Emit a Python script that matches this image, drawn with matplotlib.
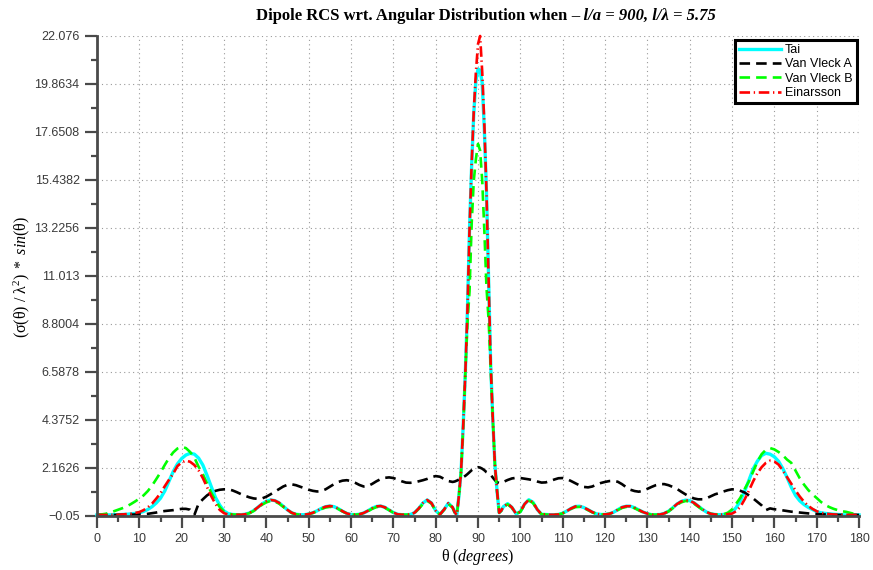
import numpy as np
import matplotlib.pyplot as plt
from matplotlib.ticker import MultipleLocator, FixedLocator

# angle grid: 1 deg steps, 0.5 deg through the main lobe
theta = np.concatenate([np.arange(0, 84), np.arange(84, 96, 0.5), np.arange(96, 181)])

tai = [
    0.00, 0.00, 0.00, 0.00, 0.01, 0.01, 0.02, 0.03, 0.05, 0.07,
    0.10, 0.16, 0.25, 0.38, 0.55, 0.77, 1.10, 1.55, 2.00, 2.35,
    2.60, 2.76, 2.84, 2.80, 2.62, 2.30, 1.82, 1.30, 0.80, 0.45,
    0.18, 0.06, 0.02, 0.01, 0.01, 0.03, 0.09, 0.20, 0.35, 0.51,
    0.63, 0.69, 0.66, 0.56, 0.40, 0.23, 0.10, 0.03, 0.01, 0.01,
    0.04, 0.10, 0.19, 0.30, 0.38, 0.41, 0.38, 0.29, 0.17, 0.07,
    0.02, 0.01, 0.03, 0.09, 0.19, 0.31, 0.39, 0.41, 0.35, 0.23,
    0.11, 0.03, 0.01, 0.01, 0.02, 0.10, 0.30, 0.55, 0.69, 0.55,
    0.20, 0.02, 0.25, 0.54,
    0.35, 0.12, 0.00, 0.90, 2.00, 4.10, 6.50, 9.40, 13.20, 16.10, 18.50, 20.00,
    20.55, 20.50, 19.90, 17.75, 14.90, 10.80, 6.90, 4.40, 2.30, 1.10, 0.10, 0.20,
    0.38, 0.52, 0.35, 0.05,
    0.15, 0.50, 0.70, 0.58, 0.25, 0.03, 0.02, 0.01, 0.01, 0.02,
    0.08, 0.18, 0.30, 0.39, 0.40, 0.34, 0.24, 0.13, 0.05, 0.02,
    0.02, 0.05, 0.12, 0.24, 0.35, 0.40, 0.40, 0.33, 0.23, 0.13,
    0.06, 0.01, 0.01, 0.02, 0.07, 0.17, 0.33, 0.50, 0.62, 0.68,
    0.66, 0.56, 0.41, 0.26, 0.13, 0.05, 0.02, 0.01, 0.02, 0.04,
    0.13, 0.34, 0.66, 1.10, 1.60, 2.12, 2.48, 2.74, 2.84, 2.80,
    2.68, 2.47, 2.14, 1.73, 1.28, 0.90, 0.65, 0.48, 0.35, 0.25,
    0.15, 0.10, 0.07, 0.05, 0.03, 0.02, 0.01, 0.00, 0.00, 0.00,
    0.00,
]

van_vleck_a = [
    0.00, 0.00, 0.00, 0.00, 0.00, 0.00, 0.01, 0.01, 0.01, 0.02,
    0.02, 0.03, 0.05, 0.08, 0.11, 0.15, 0.18, 0.20, 0.22, 0.25,
    0.28, 0.28, 0.24, 0.00, 0.52, 0.72, 0.90, 1.03, 1.11, 1.16,
    1.18, 1.18, 1.13, 1.05, 0.96, 0.88, 0.81, 0.76, 0.74, 0.76,
    0.84, 0.95, 1.07, 1.19, 1.31, 1.39, 1.41, 1.37, 1.30, 1.23,
    1.16, 1.11, 1.08, 1.10, 1.18, 1.30, 1.42, 1.52, 1.58, 1.60,
    1.56, 1.48, 1.38, 1.31, 1.33, 1.43, 1.55, 1.65, 1.71, 1.73,
    1.70, 1.63, 1.55, 1.49, 1.48, 1.50, 1.55, 1.60, 1.66, 1.74,
    1.79, 1.76, 1.66, 1.56,
    1.52, 1.54, 1.58, 1.63, 1.68, 1.74, 1.80, 1.88, 1.97, 2.06, 2.13, 2.18,
    2.20, 2.18, 2.13, 2.06, 1.97, 1.92, 1.85, 1.72, 1.60, 1.51, 1.47, 1.48,
    1.52, 1.61, 1.68, 1.71,
    1.70, 1.67, 1.64, 1.60, 1.54, 1.49, 1.50, 1.56, 1.63, 1.69,
    1.70, 1.65, 1.56, 1.46, 1.36, 1.29, 1.27, 1.31, 1.40, 1.47,
    1.52, 1.56, 1.57, 1.53, 1.42, 1.28, 1.16, 1.10, 1.07, 1.12,
    1.20, 1.29, 1.37, 1.42, 1.42, 1.37, 1.29, 1.20, 1.07, 0.95,
    0.84, 0.76, 0.72, 0.72, 0.77, 0.86, 0.95, 1.01, 1.08, 1.14,
    1.18, 1.17, 1.11, 1.03, 0.90, 0.76, 0.60, 0.44, 0.22, 0.30,
    0.26, 0.24, 0.21, 0.18, 0.15, 0.13, 0.11, 0.09, 0.07, 0.05,
    0.04, 0.03, 0.02, 0.01, 0.00, 0.00, 0.00, 0.00, 0.00, 0.00,
    0.00,
]

van_vleck_b = [
    0.00, 0.02, 0.05, 0.10, 0.17, 0.24, 0.31, 0.39, 0.50, 0.62,
    0.75, 0.90, 1.10, 1.35, 1.65, 1.96, 2.30, 2.62, 2.88, 3.06,
    3.14, 3.08, 2.90, 2.64, 2.22, 1.88, 1.45, 1.02, 0.66, 0.36,
    0.15, 0.05, 0.02, 0.01, 0.01, 0.03, 0.08, 0.18, 0.32, 0.47,
    0.58, 0.64, 0.62, 0.52, 0.37, 0.21, 0.09, 0.03, 0.01, 0.01,
    0.04, 0.09, 0.17, 0.27, 0.34, 0.37, 0.35, 0.27, 0.16, 0.07,
    0.02, 0.01, 0.03, 0.08, 0.17, 0.28, 0.36, 0.38, 0.33, 0.22,
    0.10, 0.03, 0.01, 0.01, 0.02, 0.09, 0.28, 0.51, 0.65, 0.52,
    0.19, 0.02, 0.24, 0.51,
    0.33, 0.11, 0.00, 0.90, 2.00, 4.00, 6.50, 8.80, 10.30, 13.40, 15.40, 16.40,
    17.10, 16.80, 15.40, 13.10, 10.50, 9.00, 6.80, 4.40, 2.30, 1.10, 0.10, 0.19,
    0.36, 0.49, 0.33, 0.05,
    0.14, 0.47, 0.66, 0.55, 0.24, 0.03, 0.02, 0.01, 0.01, 0.02,
    0.07, 0.17, 0.28, 0.36, 0.37, 0.32, 0.22, 0.12, 0.05, 0.02,
    0.02, 0.05, 0.11, 0.22, 0.32, 0.37, 0.37, 0.31, 0.21, 0.12,
    0.05, 0.01, 0.01, 0.02, 0.07, 0.16, 0.31, 0.47, 0.58, 0.64,
    0.62, 0.52, 0.38, 0.24, 0.12, 0.05, 0.02, 0.01, 0.03, 0.10,
    0.25, 0.52, 0.80, 1.20, 1.55, 2.00, 2.45, 2.80, 3.00, 3.08,
    3.02, 2.90, 2.75, 2.55, 2.40, 2.05, 1.69, 1.40, 1.15, 0.95,
    0.78, 0.60, 0.46, 0.36, 0.28, 0.22, 0.17, 0.14, 0.09, 0.04,
    0.02,
]

einarsson = [
    0.00, 0.00, 0.00, 0.00, 0.01, 0.01, 0.02, 0.04, 0.06, 0.09,
    0.13, 0.22, 0.35, 0.52, 0.75, 1.00, 1.32, 1.62, 1.90, 2.25,
    2.42, 2.50, 2.45, 2.30, 2.05, 1.70, 1.28, 0.86, 0.50, 0.23,
    0.08, 0.02, 0.01, 0.01, 0.01, 0.03, 0.09, 0.20, 0.35, 0.51,
    0.63, 0.69, 0.66, 0.56, 0.40, 0.23, 0.10, 0.03, 0.01, 0.01,
    0.04, 0.10, 0.19, 0.30, 0.38, 0.41, 0.38, 0.29, 0.17, 0.07,
    0.02, 0.01, 0.03, 0.09, 0.19, 0.31, 0.39, 0.41, 0.35, 0.23,
    0.11, 0.03, 0.01, 0.01, 0.02, 0.10, 0.30, 0.55, 0.69, 0.55,
    0.20, 0.02, 0.25, 0.54,
    0.35, 0.12, 0.00, 0.90, 2.00, 4.10, 6.50, 9.40, 13.20, 16.20, 18.60, 20.40,
    21.70, 22.076, 20.40, 18.00, 14.90, 10.80, 6.90, 4.40, 2.30, 1.10, 0.10, 0.20,
    0.38, 0.52, 0.35, 0.05,
    0.15, 0.50, 0.70, 0.58, 0.25, 0.03, 0.02, 0.01, 0.01, 0.02,
    0.08, 0.18, 0.30, 0.39, 0.40, 0.34, 0.24, 0.13, 0.05, 0.02,
    0.02, 0.05, 0.12, 0.24, 0.35, 0.40, 0.40, 0.33, 0.23, 0.13,
    0.06, 0.01, 0.01, 0.02, 0.07, 0.17, 0.33, 0.50, 0.62, 0.68,
    0.66, 0.56, 0.41, 0.26, 0.13, 0.05, 0.02, 0.01, 0.02, 0.04,
    0.06, 0.17, 0.38, 0.72, 1.12, 1.55, 1.92, 2.20, 2.40, 2.50,
    2.46, 2.32, 2.04, 1.74, 1.44, 1.13, 0.85, 0.61, 0.42, 0.28,
    0.17, 0.10, 0.06, 0.04, 0.02, 0.01, 0.01, 0.00, 0.00, 0.00,
    0.00,
]

y_ticks = np.linspace(-0.05, 22.076, 11)
y_tick_labels = ['\u22120.05', '2.1626', '4.3752', '6.5878', '8.8004', '11.013',
                 '13.2256', '15.4382', '17.6508', '19.8634', '22.076']

for s in (tai, van_vleck_a, van_vleck_b, einarsson):
    assert len(s) == len(theta)

plt.rcParams['mathtext.fontset'] = 'custom'
plt.rcParams['mathtext.rm'] = 'Liberation Serif'
plt.rcParams['mathtext.it'] = 'Liberation Serif:italic'
plt.rcParams['mathtext.bf'] = 'Liberation Serif:bold'

W, H = 873, 570
fig = plt.figure(figsize=(W / 100, H / 100), dpi=100)
ax = fig.add_axes([97 / W, 1 - 516 / H, (859 - 97) / W, (516 - 36) / H])

ax.plot(theta, tai, color='#00ffff', lw=2.4, label='Tai', clip_on=False)
ax.plot(theta, van_vleck_a, color='black', lw=1.9, dashes=(4.0, 2.3),
        label='Van Vleck A', clip_on=False)
ax.plot(theta, van_vleck_b, color='#00ff00', lw=1.9, dashes=(4.0, 2.3),
        label='Van Vleck B', clip_on=False)
ax.plot(theta, einarsson, color='red', lw=1.9, dashes=(4.0, 1.4, 0.5, 1.4),
        label='Einarsson', clip_on=False)

ax.set_xlim(0, 180)
ax.set_ylim(-0.05, 22.076)
ax.xaxis.set_major_locator(MultipleLocator(10))
ax.xaxis.set_minor_locator(MultipleLocator(5))
ax.yaxis.set_major_locator(FixedLocator(y_ticks))
ax.yaxis.set_minor_locator(FixedLocator((y_ticks[:-1] + y_ticks[1:]) / 2))
ax.set_yticklabels(y_tick_labels)

ax.grid(True, which='major', linestyle=(0, (1, 3)), color='#9a9a9a', lw=0.8)
ax.set_axisbelow(True)

for side in ('top', 'right'):
    ax.spines[side].set_visible(False)
for side in ('left', 'bottom'):
    ax.spines[side].set_color('#4a4a4a')
    ax.spines[side].set_linewidth(2.0)

ax.tick_params(which='major', direction='out', length=8.5, width=1.6,
               color='#4a4a4a', labelsize=9, labelcolor='#3a3a3a', pad=4)
ax.tick_params(which='minor', direction='out', length=4.5, width=1.6,
               color='#4a4a4a')
for lab in ax.get_xticklabels() + ax.get_yticklabels():
    lab.set_fontfamily('Liberation Sans')

leg = ax.legend(loc='upper right', bbox_to_anchor=(0.9975, 0.992),
                prop={'family': 'Liberation Sans', 'size': 9},
                handlelength=3.3, handletextpad=0.35, labelspacing=0.18,
                borderpad=0.35, borderaxespad=0.0, fancybox=False,
                framealpha=1.0, edgecolor='black')
leg.get_frame().set_linewidth(2.2)

# title: bold part followed by bold-italic part
ty = 1 - 16 / H
t1 = fig.text(0, ty, 'Dipole RCS wrt. Angular Distribution when ',
              fontfamily='Liberation Serif', fontweight='bold', fontsize=12,
              va='center', ha='left')
t2 = fig.text(0, ty, '\u2013 l/a = 900, l/\u03bb = 5.75',
              fontfamily='Liberation Serif', fontweight='bold', fontstyle='italic',
              fontsize=12, va='center', ha='left')
r = fig.canvas.get_renderer()
w1 = t1.get_window_extent(r).width
w2 = t2.get_window_extent(r).width
x0 = 486 - (w1 + w2) / 2
t1.set_x(x0 / W)
t2.set_x((x0 + w1) / W)

fig.text(22 / W, 1 - 277 / H,
         r'$\mathrm{(\sigma(\theta)\ /\ \lambda^{2})\ *\ }\mathit{sin}\mathrm{(\theta)}$',
         rotation=90, fontsize=11.5, ha='center', va='center')
fig.text(478 / W, 1 - 557 / H, r'$\mathrm{\theta}\ \mathit{(degrees)}$',
         fontsize=11.5, ha='center', va='center')

fig.savefig('out.png', dpi=100)
